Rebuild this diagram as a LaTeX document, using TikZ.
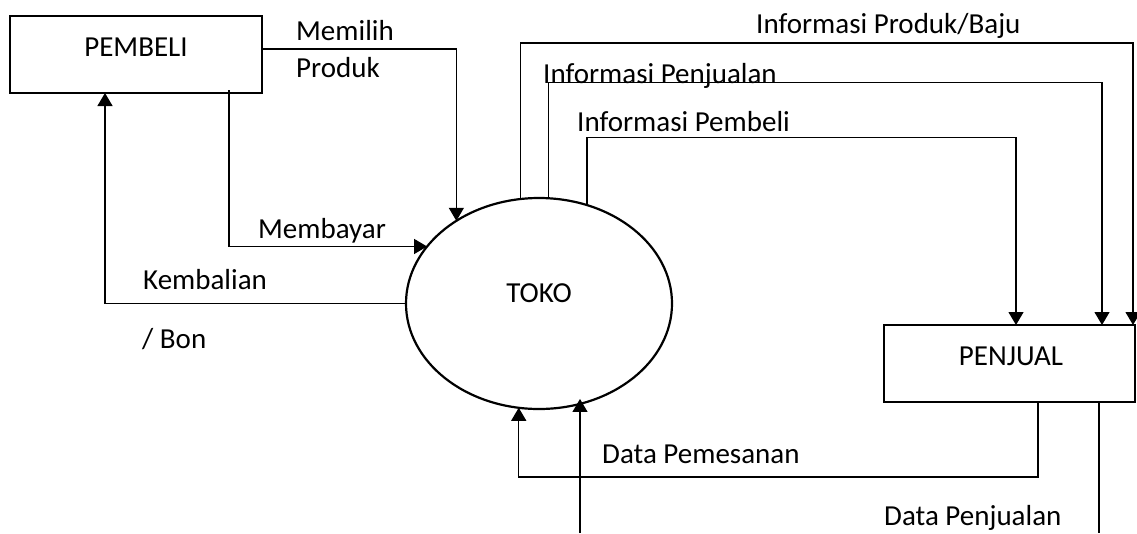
\documentclass[tikz,border=0pt]{standalone}
\usepackage{fontspec}
\setmainfont{Carlito}
\usetikzlibrary{arrows.meta,shapes.geometric}
\begin{document}
\begin{tikzpicture}[x=1pt,y=-1pt,
  entity/.style={draw, line width=2.5pt, rectangle, minimum width=#1, minimum height=77pt, inner sep=0pt, outer sep=0pt},
  process/.style={draw, line width=2.2pt, ellipse, minimum width=266pt, minimum height=211pt, inner sep=0pt, outer sep=0pt},
  lbl/.style={inner sep=0pt, font=\fontsize{29}{34}\selectfont},
  flow/.style={line width=1.2pt, -{Triangle[length=13pt,width=15pt]}},
  wire/.style={line width=1.2pt}]
\useasboundingbox (0,0) rectangle (1137,533);

% external entities and the process
\node[entity=252pt] (pembeli) at (136,54.5) {};
\node[process] (toko) at (539,303.5) {};
\node[entity=251pt] (penjual) at (1009.5,363.5) {};

% names inside the shapes
\node[lbl, anchor=base] (tPembeli) at (136,56) {PEMBELI};
\node[lbl, anchor=base] (tToko) at (539,302) {TOKO};
\node[lbl, anchor=base] (tPenjual) at (1011,365) {PENJUAL};

% flow labels
\node[lbl, anchor=base west] (tMemilih) at (296,40) {Memilih};
\node[lbl, anchor=base west] (tProduk) at (296,77.5) {Produk};
\node[lbl, anchor=base west] (tBayar) at (258,238) {Membayar};
\node[lbl, anchor=base west] (tKembali) at (143,289) {Kembalian};
\node[lbl, anchor=base west] (tBon) at (142,348) {/ Bon};
\node[lbl, anchor=base west] (tInfoBaju) at (756,33) {Informasi Produk/Baju};
\node[lbl, anchor=base west] (tInfoJual) at (543,83) {Informasi Penjualan};
\node[lbl, anchor=base west] (tInfoBeli) at (577,131) {Informasi Pembeli};
\node[lbl, anchor=base west] (tPesan) at (602,463) {Data Pemesanan};
\node[lbl, anchor=base west] (tDataJual) at (884,525) {Data Penjualan};

% buyer <-> shop
\draw[flow] ([yshift=5.5pt]pembeli.east) -| (toko.135.8);
\draw[flow] ([xshift=93pt,yshift=3pt]pembeli.south) |- (toko.153.8);
\draw[flow] (toko.west) -| ([xshift=-31pt]pembeli.south);

% shop -> seller
\draw[flow] (toko.100.3) -- ++(0,-156) -| ([xshift=123.5pt]penjual.north);
\draw[flow] (toko.85.7) -- ++(0,-116) -| ([xshift=92.5pt]penjual.north);
\draw[flow] (toko.64) -- ++(0,-68) -| ([xshift=6.5pt]penjual.north);

% seller -> shop
\draw[flow] ([xshift=28.5pt]penjual.south) -- ++(0,75) -| (toko.259.7);
\coordinate (outR) at (1099,533);
\coordinate (outL) at (580,533);
\draw[wire] ([xshift=89.5pt]penjual.south) -- (outR);
\draw[flow] (outL) -- ([yshift=5pt]outL |- toko.292.2);
\end{tikzpicture}
\end{document}
